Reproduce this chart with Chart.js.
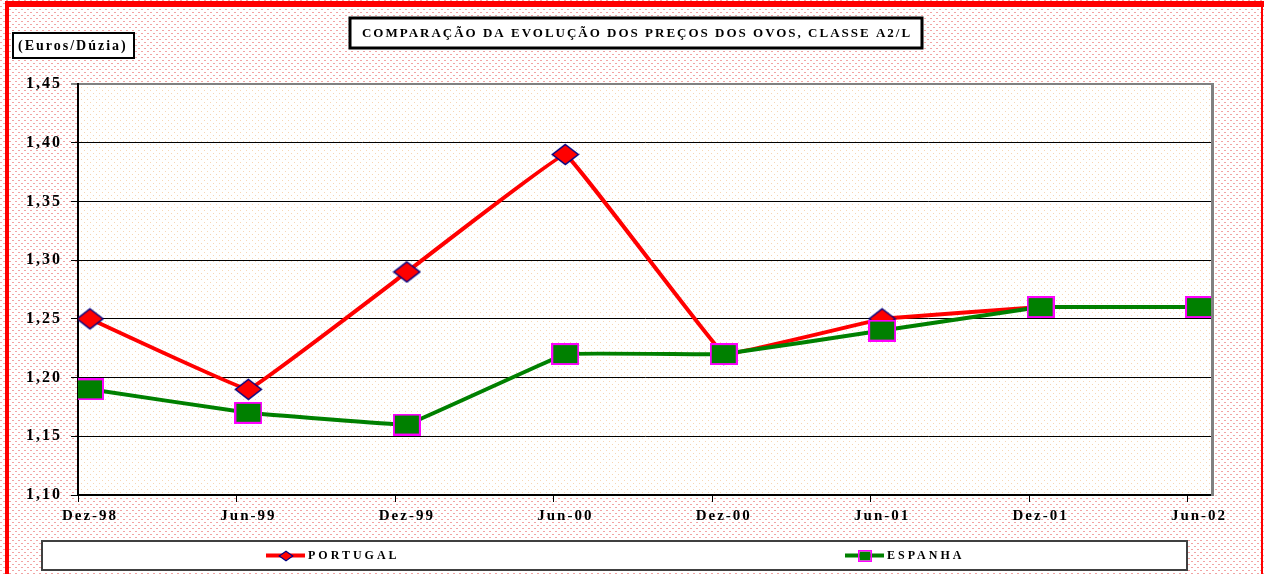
<!DOCTYPE html>
<html>
<head>
<meta charset="utf-8">
<script src="https://cdn.jsdelivr.net/npm/chart.js"></script>
<style>
  body { margin: 0; background: #fff; }
  canvas { display: block; }
</style>
</head>
<body>
<canvas id="myChart" width="1264" height="574"></canvas>

<script>
// dados (Euros/Dúzia)
const periodos = ['Dez-98', 'Jun-99', 'Dez-99', 'Jun-00', 'Dez-00', 'Jun-01', 'Dez-01', 'Jun-02']
const portugal = [1.25, 1.19, 1.29, 1.39, 1.22, 1.25, 1.26, 1.26]
const espanha = [1.19, 1.17, 1.16, 1.22, 1.22, 1.24, 1.26, 1.26]
const yTicks = [1.10, 1.15, 1.20, 1.25, 1.30, 1.35, 1.40, 1.45]

const titulo = 'COMPARAÇÃO DA EVOLUÇÃO DOS PREÇOS DOS OVOS, CLASSE A2/L'
const unidade = '(Euros/Dúzia)'
const nomes = ['PORTUGAL', 'ESPANHA']

const serif = "'Liberation Serif', 'Times New Roman', serif"
const xMin = -0.0757, xMax = 7.082

// marker images (diamond for Portugal, square for Espanha)
function makeDiamond(w, h, lw) {
  const c = document.createElement('canvas')
  c.width = w; c.height = h
  const g = c.getContext('2d')
  g.beginPath()
  g.moveTo(w / 2, lw); g.lineTo(w - lw, h / 2); g.lineTo(w / 2, h - lw); g.lineTo(lw, h / 2)
  g.closePath()
  g.fillStyle = '#ff0000'; g.fill()
  g.lineWidth = lw; g.strokeStyle = '#000080'; g.stroke()
  return c
}
function makeSquare(w, h, lw) {
  const c = document.createElement('canvas')
  c.width = w; c.height = h
  const g = c.getContext('2d')
  g.fillStyle = '#008000'; g.fillRect(lw, lw, w - 2 * lw, h - 2 * lw)
  g.lineWidth = lw; g.strokeStyle = '#ff00ff'; g.strokeRect(lw / 2, lw / 2, w - lw, h - lw)
  return c
}
const diamond = makeDiamond(29, 23, 1.5)
const square = makeSquare(28, 22, 2)
const diamondSmall = makeDiamond(16, 12, 1.2)
const squareSmall = makeSquare(14, 12, 1.5)

// dotted background patterns
function makePattern(ctx, color, w, h, dots) {
  const c = document.createElement('canvas')
  c.width = w; c.height = h
  const g = c.getContext('2d')
  g.fillStyle = '#ffffff'; g.fillRect(0, 0, w, h)
  g.fillStyle = color
  dots.forEach(d => g.fillRect(d[0], d[1], d[2], d[3]))
  return ctx.createPattern(c, 'repeat')
}

const decor = {
  id: 'decor',
  beforeDraw(chart) {
    const ctx = chart.ctx
    const a = chart.chartArea
    ctx.save()
    ctx.fillStyle = makePattern(ctx, '#f2a4a4', 6, 6, [[0, 0, 2, 1], [3, 3, 2, 1]])
    ctx.fillRect(0, 0, chart.width, chart.height)
    ctx.fillStyle = makePattern(ctx, '#f7d6b4', 6, 6, [[0, 0, 1, 1], [3, 3, 1, 1]])
    ctx.fillRect(a.left, a.top, a.right - a.left, a.bottom - a.top)
    // red page frame
    ctx.fillStyle = '#ff0000'
    ctx.fillRect(5, 1, chart.width - 5, 6)
    ctx.fillRect(5, 1, 4, chart.height)
    ctx.fillRect(chart.width - 3, 1, 2, chart.height)
    ctx.restore()
    ctx.letterSpacing = '2px'
  },
  afterDraw(chart) {
    const ctx = chart.ctx
    const a = chart.chartArea
    const x = chart.scales.x
    ctx.save()
    // right border of plot
    ctx.fillStyle = '#808080'
    ctx.fillRect(a.right - 1, a.top - 1, 3, a.bottom - a.top + 2)
    // x tick marks (between the category labels)
    ctx.strokeStyle = '#000'
    ctx.lineWidth = 1
    periodos.forEach((p, i) => {
      const px = Math.round(x.getPixelForValue(i + xMin)) + 0.5
      ctx.beginPath(); ctx.moveTo(px, a.bottom); ctx.lineTo(px, a.bottom + 7); ctx.stroke()
    })

    // title box
    ctx.fillStyle = '#fff'
    ctx.fillRect(350, 18, 572, 30)
    ctx.lineWidth = 3; ctx.strokeStyle = '#000'
    ctx.strokeRect(350, 18, 572, 30)
    ctx.letterSpacing = '2px'
    ctx.font = 'bold 13px ' + serif
    ctx.fillStyle = '#000'
    ctx.textAlign = 'center'; ctx.textBaseline = 'middle'
    ctx.fillText(titulo, 637, 34)

    // unit box
    ctx.fillStyle = '#fff'
    ctx.fillRect(13, 33, 121, 25)
    ctx.lineWidth = 2; ctx.strokeStyle = '#000'
    ctx.strokeRect(13, 33, 121, 25)
    ctx.letterSpacing = '2px'
    ctx.font = 'bold 14px ' + serif
    ctx.fillStyle = '#000'
    ctx.textAlign = 'left'
    ctx.fillText(unidade, 18, 46)

    // legend
    ctx.fillStyle = '#fff'
    ctx.fillRect(42, 541, 1145, 29)
    ctx.lineWidth = 2; ctx.strokeStyle = '#404040'
    ctx.strokeRect(42, 541, 1145, 29)
    const items = [
      { x0: 266, color: '#ff0000', img: diamondSmall, name: nomes[0] },
      { x0: 845, color: '#008000', img: squareSmall, name: nomes[1] }
    ]
    items.forEach(it => {
      ctx.strokeStyle = it.color; ctx.lineWidth = 4
      ctx.beginPath(); ctx.moveTo(it.x0, 555.5); ctx.lineTo(it.x0 + 39, 555.5); ctx.stroke()
      ctx.drawImage(it.img, it.x0 + 20 - it.img.width / 2, 556 - it.img.height / 2)
      ctx.letterSpacing = '3px'
      ctx.font = 'bold 12px ' + serif
      ctx.fillStyle = '#000'
      ctx.textAlign = 'left'
      ctx.fillText(it.name, it.x0 + 42, 556)
    })
    ctx.restore()
  }
}

const ctx = document.getElementById('myChart')

const datasetChart = new Chart(ctx, {
  type: 'line',
  data: {
    datasets: [
      {
        label: nomes[0],
        data: portugal.map((v, i) => ({ x: i, y: v })),
        borderColor: '#ff0000',
        backgroundColor: '#ff0000',
        borderWidth: 4,
        pointStyle: diamond,
        tension: 0.04,
        order: 1
      },
      {
        label: nomes[1],
        data: espanha.map((v, i) => ({ x: i, y: v })),
        borderColor: '#008000',
        backgroundColor: '#008000',
        borderWidth: 4,
        pointStyle: square,
        tension: 0.04,
        order: 0
      }
    ]
  },
  options: {
    responsive: false,
    animation: false,
    events: [],
    layout: { padding: { left: 0, top: 84, right: 52, bottom: 0 } },
    plugins: {
      legend: { display: false },
      title: { display: false },
      tooltip: { enabled: false }
    },
    scales: {
      x: {
        type: 'linear',
        min: xMin,
        max: xMax,
        afterBuildTicks: (s) => { s.ticks = periodos.map((p, i) => ({ value: i })) },
        afterFit: (s) => { s.height = 79 },
        ticks: {
          callback: (v) => periodos[Math.round(v)],
          font: { family: serif, size: 15, weight: 'bold' },
          color: '#000',
          padding: 12,
          maxRotation: 0,
          autoSkip: false
        },
        grid: { drawOnChartArea: false, drawTicks: false },
        border: { color: '#000', width: 2 }
      },
      y: {
        min: 1.10,
        max: 1.45,
        afterBuildTicks: (s) => { s.ticks = yTicks.map(v => ({ value: v })) },
        afterFit: (s) => { s.width = 78 },
        ticks: {
          callback: (v) => v.toFixed(2).replace('.', ','),
          font: { family: serif, size: 16, weight: 'bold' },
          color: '#000',
          padding: 9
        },
        grid: {
          color: (c) => Math.abs(c.tick.value - 1.45) < 1e-6 ? '#808080' : '#000',
          lineWidth: (c) => Math.abs(c.tick.value - 1.45) < 1e-6 ? 2 : 1,
          tickLength: 7
        },
        border: { color: '#000', width: 2 }
      }
    }
  },
  plugins: [decor]
});
</script>
</body>
</html>
